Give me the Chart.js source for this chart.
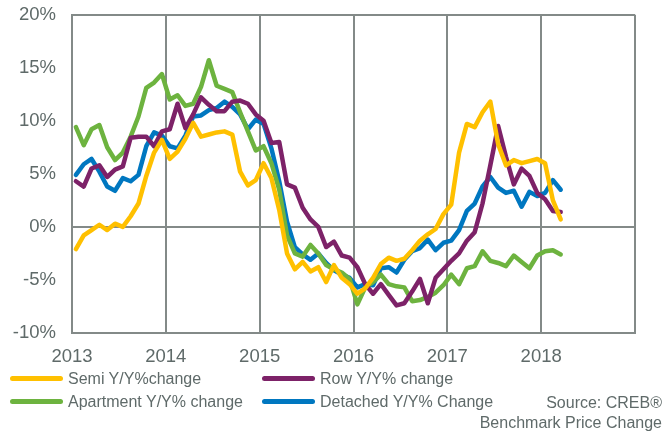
<!DOCTYPE html>
<html>
<head>
<meta charset="utf-8">
<script src="https://cdn.jsdelivr.net/npm/chart.js@4/dist/chart.umd.min.js"></script>
<style>
  body { margin: 0; background: #fff; }
  #wrap { position: relative; width: 666px; height: 431px; overflow: hidden; font-family: "Liberation Sans", Arial, sans-serif; color: #5f6a69; }
  #chart { position: absolute; left: 0; top: -6px; }
  #legend .item { position: absolute; font-size: 16px; line-height: 20px; white-space: nowrap; }
  #legend .swatch { position: absolute; left: -58px; top: 7px; width: 53px; height: 5px; border-radius: 3px; }
  #source { position: absolute; right: 4px; top: 393px; font-size: 16px; line-height: 20px; text-align: right; }
</style>
</head>
<body>
<div id="wrap">
  <canvas id="chart" width="666" height="437"></canvas>
  <div id="legend"></div>
  <div id="source">Source: CREB®<br>Benchmark Price Change</div>
</div>
<script>
// monthly year-over-year change, Jan 2013 .. Mar 2018
const startYear = 2013;
const yearTicks = [2013, 2014, 2015, 2016, 2017, 2018, 2019];
const seriesNames = ["Semi Y/Y%change", "Row Y/Y% change", "Apartment Y/Y% change", "Detached Y/Y% Change"];
const seriesColors = ["#ffc000", "#7d2268", "#6db33f", "#0077c0"];

const semi = [
  -2.1, -0.8, -0.3, 0.2, -0.3, 0.3, 0.0, 1.0, 2.2, 4.8, 7.0, 8.2,
  6.4, 7.1, 8.3, 9.8, 8.5, 8.7, 8.9, 9.0, 8.7, 5.2, 3.9, 4.4,
  6.0, 4.6, 1.6, -2.5, -4.0, -3.3, -4.2, -3.8, -5.2, -3.6, -4.8, -5.4,
  -6.3, -5.8, -4.8, -3.5, -2.9, -3.2, -3.0, -2.2, -1.3, -0.7, -0.2, 1.2,
  2.1, 7.0, 9.7, 9.4, 10.8, 11.8, 7.8, 5.8, 6.3, 6.0, 6.2, 6.4,
  6.0, 2.5, 0.7
];
const row = [
  4.3, 3.8, 5.5, 5.8, 4.7, 5.4, 5.7, 8.4, 8.5, 8.5, 7.6, 9.0,
  9.2, 11.6, 9.3, 10.6, 12.2, 11.5, 10.9, 10.9, 11.8, 11.9, 11.6, 10.6,
  10.0, 7.9, 8.0, 4.0, 3.7, 1.8, 0.7, 0.0, -1.9, -1.4, -2.7, -2.9,
  -3.8, -5.4, -6.3, -5.4, -6.4, -7.4, -7.2, -6.1, -4.9, -7.2, -4.8, -4.0,
  -3.2, -2.5, -1.3, -0.5, 2.2, 5.8, 9.5, 6.6, 4.0, 5.5, 4.8, 3.2,
  2.6, 1.5, 1.4
];
const apartment = [
  9.4, 7.7, 9.2, 9.6, 7.5, 6.3, 7.0, 8.5, 10.4, 13.1, 13.6, 14.4,
  12.0, 12.4, 11.4, 11.6, 13.2, 15.7, 13.3, 13.0, 12.7, 10.8, 9.0, 7.2,
  7.6, 6.0, 3.5, -0.8, -2.5, -2.8, -1.7, -2.5, -3.6, -4.0, -4.3, -4.9,
  -7.3, -5.7, -5.2, -4.5, -5.4, -5.6, -5.7, -7.0, -6.9, -6.6, -6.2, -5.5,
  -4.5, -5.4, -3.9, -3.7, -2.3, -3.2, -3.4, -3.7, -2.7, -3.3, -3.9, -2.7,
  -2.3, -2.2, -2.6
];
const detached = [
  4.9, 5.9, 6.4, 5.2, 3.8, 3.4, 4.6, 4.3, 4.9, 7.6, 8.9, 8.6,
  7.6, 7.4, 8.6, 10.4, 10.5, 11.0, 11.2, 11.8, 11.3, 10.6, 9.2, 10.1,
  9.7, 7.4, 4.3, 0.5, -1.9, -2.6, -3.1, -2.5, -3.4, -4.1, -4.5, -4.8,
  -5.7, -5.4, -5.5, -3.9, -3.8, -4.3, -3.1, -2.3, -2.0, -1.2, -2.2, -1.5,
  -1.3, -0.3, 1.5, 2.2, 3.8, 4.7, 3.7, 3.2, 3.4, 1.9, 3.3, 2.9,
  3.2, 4.4, 3.5
];

const gridColor = "#838a88";
const textColor = "#5f6a69";
const font = { family: "'Liberation Sans', Arial, sans-serif", size: 18.5 };
const yFont = { family: font.family, size: 18.5, lineHeight: 0.5 };

// each value sits mid-month on a continuous year axis
function toPoints(values) {
  return values.map((v, i) => ({ x: startYear + (i + 0.5) / 12, y: v }));
}

const allSeries = [semi, row, apartment, detached];
const datasets = allSeries.map((values, k) => ({
  label: seriesNames[k],
  data: toPoints(values),
  borderColor: seriesColors[k],
  backgroundColor: seriesColors[k],
  borderWidth: 4.5,
  pointRadius: 0,
  tension: 0,
  borderJoinStyle: "round",
  borderCapStyle: "round"
}));

new Chart(document.getElementById("chart"), {
  type: "line",
  data: { datasets },
  options: {
    responsive: false,
    animation: false,
    layout: { padding: { left: 0, top: 8, right: 31, bottom: 58 } },
    plugins: { legend: { display: false }, tooltip: { enabled: false } },
    scales: {
      x: {
        type: "linear",
        min: 2013,
        max: 2019,
        afterBuildTicks: (axis) => { axis.ticks = yearTicks.map(v => ({ value: v })); },
        afterFit: (axis) => { axis.height = 40; },
        grid: { color: gridColor, lineWidth: 2, drawTicks: false },
        border: { color: gridColor, width: 2 },
        ticks: {
          color: textColor,
          font,
          padding: 13,
          maxRotation: 0,
          callback: (v) => (v === 2019 ? "" : String(v))
        }
      },
      y: {
        min: -10,
        max: 20,
        afterFit: (axis) => { axis.width = 72; },
        grid: {
          color: (ctx) => (ctx.tick && (ctx.tick.value === 0 || ctx.tick.value === 20) ? gridColor : "rgba(0,0,0,0)"),
          lineWidth: 2,
          drawTicks: false
        },
        border: { color: gridColor, width: 2 },
        ticks: {
          stepSize: 5,
          color: textColor,
          font: yFont,
          padding: 16,
          callback: (v) => v + "%"
        }
      }
    }
  }
});

// legend below the plot, two columns
const legendPos = [
  { left: 68, top: 369 },
  { left: 320, top: 369 },
  { left: 68, top: 392 },
  { left: 320, top: 392 }
];
const legend = document.getElementById("legend");
seriesNames.forEach((name, k) => {
  const item = document.createElement("div");
  item.className = "item";
  item.style.left = legendPos[k].left + "px";
  item.style.top = legendPos[k].top + "px";
  const sw = document.createElement("span");
  sw.className = "swatch";
  sw.style.background = seriesColors[k];
  item.appendChild(sw);
  item.appendChild(document.createTextNode(name));
  legend.appendChild(item);
});
</script>
</body>
</html>
